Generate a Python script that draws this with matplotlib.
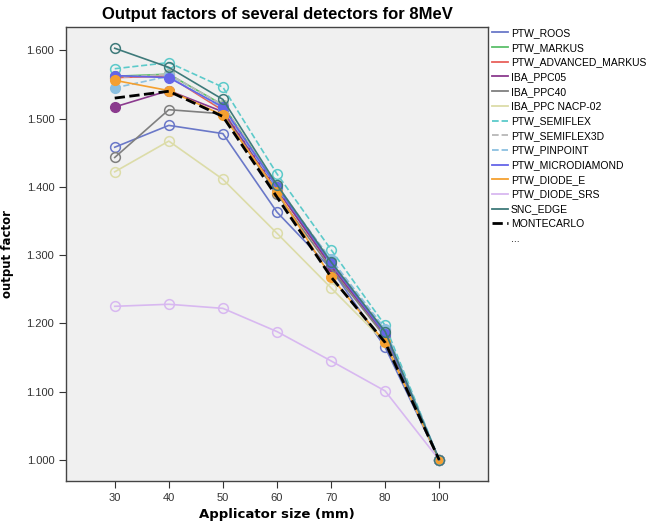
import matplotlib
matplotlib.use('Agg')
import matplotlib.pyplot as plt
from matplotlib.lines import Line2D

# applicator sizes (categorical axis)
sizes = ['30', '40', '50', '60', '70', '80', '100']

# output factors per detector
roos        = [1.458, 1.490, 1.478, 1.363, 1.280, 1.165, 1.000]
markus      = [1.562, 1.565, 1.520, 1.400, 1.288, 1.186, 1.000]
adv_markus  = [1.560, 1.562, 1.512, 1.396, 1.284, 1.184, 1.000]
ppc05       = [1.517, 1.541, 1.510, 1.397, 1.284, 1.183, 1.000]
ppc40       = [1.443, 1.513, 1.507, 1.390, 1.280, 1.180, 1.000]
nacp02      = [1.422, 1.467, 1.411, 1.332, 1.252, 1.172, 1.000]
semiflex    = [1.573, 1.582, 1.546, 1.419, 1.308, 1.197, 1.000]
semiflex3d  = [1.560, 1.565, 1.520, 1.402, 1.292, 1.190, 1.000]
pinpoint    = [1.545, 1.562, 1.515, 1.398, 1.294, 1.192, 1.000]
microdiam   = [1.563, 1.560, 1.517, 1.400, 1.288, 1.185, 1.000]
diode_e     = [1.556, 1.541, 1.505, 1.393, 1.268, 1.172, 1.000]
diode_srs   = [1.225, 1.228, 1.222, 1.188, 1.145, 1.101, 1.000]
snc_edge    = [1.603, 1.575, 1.528, 1.403, 1.290, 1.188, 1.000]
montecarlo  = [1.530, 1.540, 1.503, 1.385, 1.268, 1.172, 1.000]

series = [
    ('PTW_ROOS', roos, '#6a78c8', '-', 'open'),
    ('PTW_MARKUS', markus, '#5cbf6a', '-', 'filled'),
    ('PTW_ADVANCED_MARKUS', adv_markus, '#e8605a', '-', 'filled'),
    ('IBA_PPC05', ppc05, '#8b3a8e', '-', 'filled'),
    ('IBA_PPC40', ppc40, '#7f7f7f', '-', 'open'),
    ('IBA_PPC NACP-02', nacp02, '#dcdca8', '-', 'open'),
    ('PTW_SEMIFLEX', semiflex, '#5ccaca', '--', 'open'),
    ('PTW_SEMIFLEX3D', semiflex3d, '#b8b8b8', '--', 'open'),
    ('PTW_PINPOINT', pinpoint, '#8cc0e0', '--', 'filled'),
    ('PTW_MICRODIAMOND', microdiam, '#6565e8', '-', 'filled'),
    ('PTW_DIODE_E', diode_e, '#f5a030', '-', 'filled'),
    ('PTW_DIODE_SRS', diode_srs, '#d8b8f0', '-', 'open'),
    ('SNC_EDGE', snc_edge, '#3e7a7a', '-', 'open'),
]

plt.rcParams['font.family'] = ['Liberation Sans', 'DejaVu Sans']

fig = plt.figure(figsize=(6.54, 5.31), dpi=100)
ax = fig.add_axes([0.101, 0.094, 0.645, 0.855])
ax.set_facecolor('#f0f0f0')

xs = list(range(len(sizes)))
handles = []
for name, vals, col, ls, mk in series:
    if mk == 'open':
        ax.plot(xs, vals, color=col, ls=ls, lw=1.2, marker='o', ms=7,
                mfc='none', mec=col, mew=1.1, zorder=3)
    else:
        ax.plot(xs, vals, color=col, ls=ls, lw=1.2, marker='o', ms=7,
                mfc=col, mec=col, zorder=3)
    handles.append(Line2D([], [], color=col, ls=ls, lw=1.3, label=name))

ax.plot(xs, montecarlo, color='black', ls='--', lw=2.0, zorder=4)
handles.append(Line2D([], [], color='black', ls='--', lw=2.0, label='MONTECARLO'))
handles.append(Line2D([], [], color='none', label='...'))

ax.set_xlim(-0.9, 6.9)
ax.set_ylim(0.969, 1.634)
ax.set_xticks(xs)
ax.set_xticklabels(sizes)
ax.set_yticks([1.0, 1.1, 1.2, 1.3, 1.4, 1.5, 1.6])
ax.set_yticklabels(['1.000', '1.100', '1.200', '1.300', '1.400', '1.500', '1.600'])
ax.tick_params(labelsize=8, colors='#333333', length=5)
for s in ax.spines.values():
    s.set_color('#444444')
    s.set_linewidth(1.0)

ax.set_title('Output factors of several detectors for 8MeV', fontsize=12,
             fontweight='bold', pad=6)
ax.set_xlabel('Applicator size (mm)', fontsize=9.5, fontweight='bold',
              family='DejaVu Sans', labelpad=4)
ax.set_ylabel('output factor', fontsize=8.5, fontweight='bold',
              family='DejaVu Sans', labelpad=9)

fig.legend(handles=handles, loc='upper left', bbox_to_anchor=(0.746, 0.955),
           frameon=False, fontsize=7.5, handlelength=1.5, handletextpad=0.3,
           labelspacing=0.45, borderaxespad=0)

fig.savefig('out.png', dpi=100)
